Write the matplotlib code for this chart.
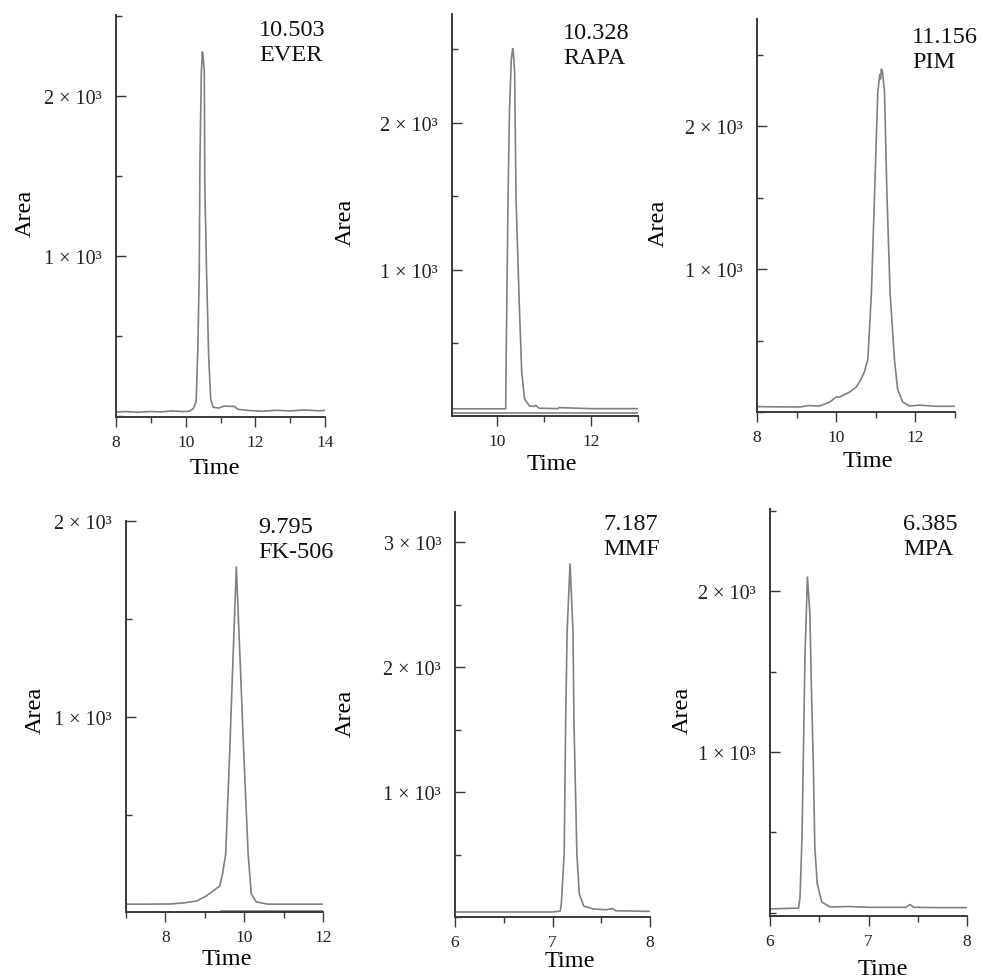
import matplotlib
matplotlib.use("Agg")
import matplotlib.pyplot as plt
from matplotlib.ticker import MultipleLocator, FixedLocator

plt.rcParams["font.family"] = ["Liberation Serif", "DejaVu Serif"]

# retention time (min) / peak area
ever_t = [8.0, 8.3, 8.6, 9.0, 9.3, 9.6, 9.9, 10.1, 10.18, 10.22, 10.30, 10.35, 10.39, 10.41,
          10.45, 10.48, 10.50, 10.535, 10.55, 10.60, 10.66, 10.72, 10.79, 10.95, 11.1, 11.4,
          11.5, 11.8, 12.2, 12.6, 13.0, 13.4, 13.8, 14.0]
ever_a = [25, 28, 24, 28, 26, 32, 28, 30, 40, 48, 90, 420, 900, 1590,
          2150, 2275, 2250, 2150, 1440, 900, 375, 105, 55, 50, 62, 60,
          42, 35, 30, 36, 32, 38, 33, 35]

rapa_t = [9.05, 10.19, 10.20, 10.24, 10.27, 10.31, 10.34, 10.35, 10.38, 10.41, 10.48, 10.53,
          10.59, 10.69, 10.78, 10.83, 10.9, 11.3, 11.32, 12.0, 13.0]
rapa_a = [54, 54, 395, 1483, 2075, 2435, 2505, 2490, 2347, 1483, 755, 306,
          122, 75, 70, 78, 58, 55, 62, 55, 55]
rapa_t2 = [9.05, 13.0]
rapa_a2 = [25, 25]

pim_t = [8.0, 8.5, 9.08, 9.3, 9.58, 9.84, 10.0, 10.09, 10.2, 10.34, 10.51, 10.63, 10.72, 10.80,
         10.89, 10.97, 11.05, 11.10, 11.12, 11.14, 11.17, 11.22, 11.28, 11.36, 11.47, 11.55,
         11.68, 11.85, 12.1, 12.5, 13.0]
pim_a = [38, 36, 35, 45, 42, 70, 105, 105, 120, 140, 175, 231, 287, 371,
         839, 1538, 2238, 2360, 2330, 2400, 2380, 2238, 1538, 839, 371, 161,
         70, 42, 48, 40, 40]

fk_t = [7.0, 7.5, 8.11, 8.45, 8.79, 9.04, 9.21, 9.38, 9.45, 9.53, 9.63, 9.72, 9.80, 9.89,
        9.99, 10.10, 10.18, 10.31, 10.6, 11.0, 11.5, 12.0]
fk_a = [45, 45, 46, 51, 61, 87, 112, 138, 199, 301, 811, 1321, 1765, 1321,
        811, 301, 97, 56, 45, 45, 45, 45]
fk_t2 = [9.4, 12.0]
fk_a2 = [10, 10]

mmf_t = [6.0, 6.5, 7.0, 7.08, 7.09, 7.12, 7.135, 7.15, 7.18, 7.21, 7.22, 7.25, 7.275, 7.32,
         7.42, 7.55, 7.61, 7.65, 8.0]
mmf_a = [40, 40, 40, 48, 104, 504, 1568, 2288, 2824, 2288, 1568, 504, 184, 88,
         64, 58, 68, 50, 45]

mpa_t = [6.0, 6.29, 6.305, 6.325, 6.34, 6.355, 6.38, 6.405, 6.42, 6.44, 6.455, 6.48, 6.525,
         6.61, 6.8, 7.0, 7.38, 7.42, 7.46, 7.7, 8.0]
mpa_a = [25, 30, 100, 472, 1031, 1590, 2087, 1857, 1404, 925, 410, 180, 68,
         37, 40, 35, 35, 52, 35, 33, 33]

peak_times = ["10.503", "10.328", "11.156", "9.795", "7.187", "6.385"]
drug_names = ["EVER", "RAPA", "PIM", "FK-506", "MMF", "MPA"]

W, H = 983, 979
fig = plt.figure(figsize=(W / 100, H / 100), dpi=100)

TRACE = "#808080"
AXC = "#3a3a3a"


def sci(v):
    return f"{int(v / 1000)} × 10³"


def panel(box, traces, xlim, ylim, xmaj, xmin, ymaj, ymin, rt, name, txt, area_xy, time_xy):
    x0, y0, x1, y1 = box
    w, h = x1 - x0, y1 - y0
    ax = fig.add_axes([x0 / W, 1 - y1 / H, w / W, h / H])
    for t, a in traces:
        ax.plot(t, a, color=TRACE, lw=1.2)
    ax.set_xlim(*xlim)
    ax.set_ylim(*ylim)
    for s in ["top", "right"]:
        ax.spines[s].set_visible(False)
    for s in ["left", "bottom"]:
        ax.spines[s].set_color(AXC)
        ax.spines[s].set_linewidth(1.4)
    ax.xaxis.set_major_locator(FixedLocator(xmaj))
    ax.xaxis.set_minor_locator(MultipleLocator(xmin))
    ax.set_xticklabels([f"{v:g}" for v in xmaj])
    ax.yaxis.set_major_locator(FixedLocator(ymaj))
    ax.yaxis.set_minor_locator(MultipleLocator(ymin))
    ax.set_yticklabels([sci(v) for v in ymaj])
    ax.tick_params(axis="x", which="major", direction="out", length=7, width=1,
                   color=AXC, labelsize=12.5, pad=5, labelcolor="#222222")
    ax.tick_params(axis="x", which="minor", direction="out", length=4, width=1, color=AXC)
    ax.tick_params(axis="y", which="major", direction="in", length=7, width=1,
                   color=AXC, labelsize=14.5, pad=10, labelcolor="#222222")
    ax.tick_params(axis="y", which="minor", direction="in", length=4, width=1, color=AXC)

    ax.set_xlabel("Time", fontsize=17.5)
    ax.xaxis.label.set_va("center")
    ax.xaxis.set_label_coords((time_xy[0] - x0) / w, (y1 - time_xy[1]) / h)
    ax.set_ylabel("Area", fontsize=17.5)
    ax.yaxis.label.set_va("center")
    ax.yaxis.set_label_coords((area_xy[0] - x0) / w, (y1 - area_xy[1]) / h)

    ax.text((txt[0] - x0) / w, (y1 - txt[1]) / h, f"{rt}\n{name}", transform=ax.transAxes,
            ha="left", va="center", fontsize=17.5, linespacing=1.2, color="#111111",
            clip_on=False)
    return ax


panel((116, 16, 325, 418), [(ever_t, ever_a)], (8, 14), (-6, 2506), [8, 10, 12, 14], 1,
      [1000, 2000], 500, peak_times[0], drug_names[0], (259, 43), (25, 213), (215, 469))
panel((452, 15, 638, 417), [(rapa_t, rapa_a), (rapa_t2, rapa_a2)], (9.05, 13), (5, 2740),
      [10, 12], 1, [1000, 2000], 500, peak_times[1], drug_names[1], (563, 46), (345, 222),
      (552, 465))
panel((757, 20, 955, 413), [(pim_t, pim_a)], (8, 13), (0, 2750), [8, 10, 12], 1,
      [1000, 2000], 500, peak_times[2], drug_names[2], (912, 50), (658, 223), (868, 462))
panel((126, 522, 323, 913), [(fk_t, fk_a), (fk_t2, fk_a2)], (7, 12), (5, 2000),
      [8, 10, 12], 1, [1000, 2000], 500, peak_times[3], drug_names[3], (258, 540), (35, 710),
      (227, 960))
panel((455, 513, 650, 918), [(mmf_t, mmf_a)], (6, 8), (0, 3240), [6, 7, 8], 0.5,
      [1000, 2000, 3000], 500, peak_times[4], drug_names[4], (603, 537), (345, 713),
      (570, 962))
panel((770, 510, 967, 917), [(mpa_t, mpa_a)], (6, 8), (-19, 2510), [6, 7, 8], 0.5,
      [1000, 2000], 500, peak_times[5], drug_names[5], (903, 537), (682, 710), (883, 970))

fig.savefig("out.png", dpi=100, facecolor="white")
